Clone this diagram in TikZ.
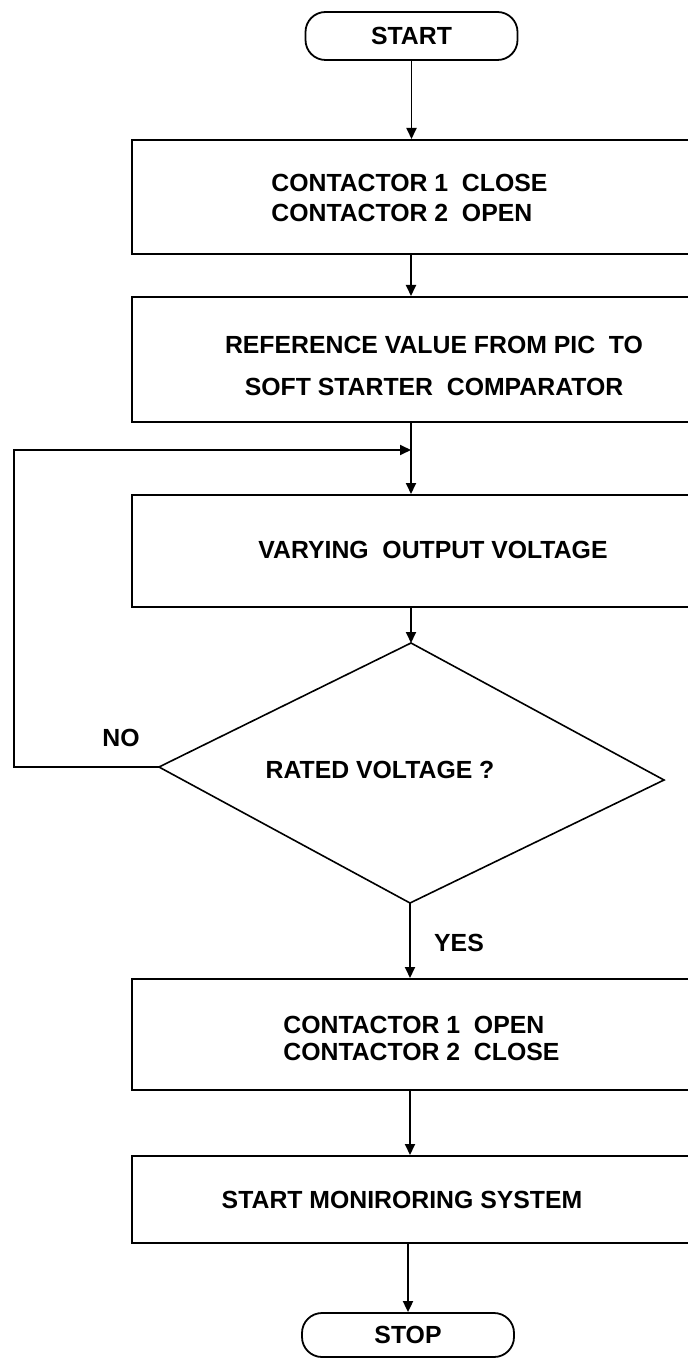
\documentclass[tikz,border=0pt]{standalone}
\usepackage{fontspec}
\setmainfont{Liberation Sans}
\usetikzlibrary{arrows.meta}
\begin{document}
\begin{tikzpicture}[x=0.5pt,y=-0.5pt,
  box/.style={draw, line width=1pt, minimum width=279pt, inner sep=0pt},
  term/.style={draw, line width=0.9pt, rounded corners=10pt, minimum width=106pt, minimum height=24pt, inner sep=0pt, font=\fontsize{12.4}{15}\selectfont\bfseries},
  lbl/.style={font=\fontsize{12.4}{15}\selectfont\bfseries, inner sep=0pt},
  arr/.style={line width=0.9pt, -{Triangle[width=5pt,length=5.5pt]}}]
\useasboundingbox (0,0) rectangle (688,1358);
\fill[white] (0,0) rectangle (688,1358);

% terminals
\node[term] (start) at (411.5,36) {START};
\node[term, minimum height=22pt] (stop) at (408,1335) {STOP};

% process boxes
\node[box, minimum height=57pt] (b1) at (411,197) {};
\node[lbl, anchor=west, align=left] (t1) at (271,198) {CONTACTOR 1\ \ CLOSE\\CONTACTOR 2\ \ OPEN};

\node[box, minimum height=62.5pt] (b2) at (411,359.5) {};
\node[lbl, align=center] (t2) at (434,366) {REFERENCE VALUE FROM PIC\ \ TO\\[6pt]SOFT STARTER\ \ COMPARATOR};

\node[box, minimum height=56pt] (b3) at (411,551) {};
\node[lbl] (t3) at (433,550) {VARYING\ \ OUTPUT VOLTAGE};

\node[box, minimum height=55.5pt] (b4) at (411,1034.5) {};
\node[lbl, anchor=west, align=left] (t4) at (283,1038.5) {CONTACTOR 1\ \ OPEN\\[-1.5pt]CONTACTOR 2\ \ CLOSE};

\node[box, minimum height=43.5pt] (b5) at (411,1199.5) {};
\node[lbl] (t5) at (402,1200) {START MONIRORING SYSTEM};

% decision
\coordinate (dt) at (411,643);
\coordinate (dl) at (159,767);
\coordinate (dr) at (664,780);
\coordinate (db) at (410,903);
\draw[line width=0.8pt] (dt) -- (dr) -- (db) -- (dl) -- cycle;
\node[lbl] (dq) at (380,770) {RATED VOLTAGE ?};

% loop
\coordinate (lb) at (14,767);
\coordinate (lt) at (14,450);
\coordinate (join) at (411,450);

% connectors
\draw[arr] (start.south) -- (start.south |- b1.north);
\draw[arr] (b1) -- (b2);
\draw[arr] (b2) -- (b3);
\draw[arr] (dt |- b3.south) -- (dt);
\draw[arr] (dl) -- (lb) -- (lt) -- (join);
\draw[arr] (db) -- (db |- b4.north);
\draw[arr] (b4.south -| db) -- (b5.north -| db);
\draw[arr] (b5.south -| stop) -- (stop);

% branch labels
\node[lbl] (no) at (121,738) {NO};
\node[lbl] (yes) at (459,943) {YES};
\end{tikzpicture}
\end{document}
